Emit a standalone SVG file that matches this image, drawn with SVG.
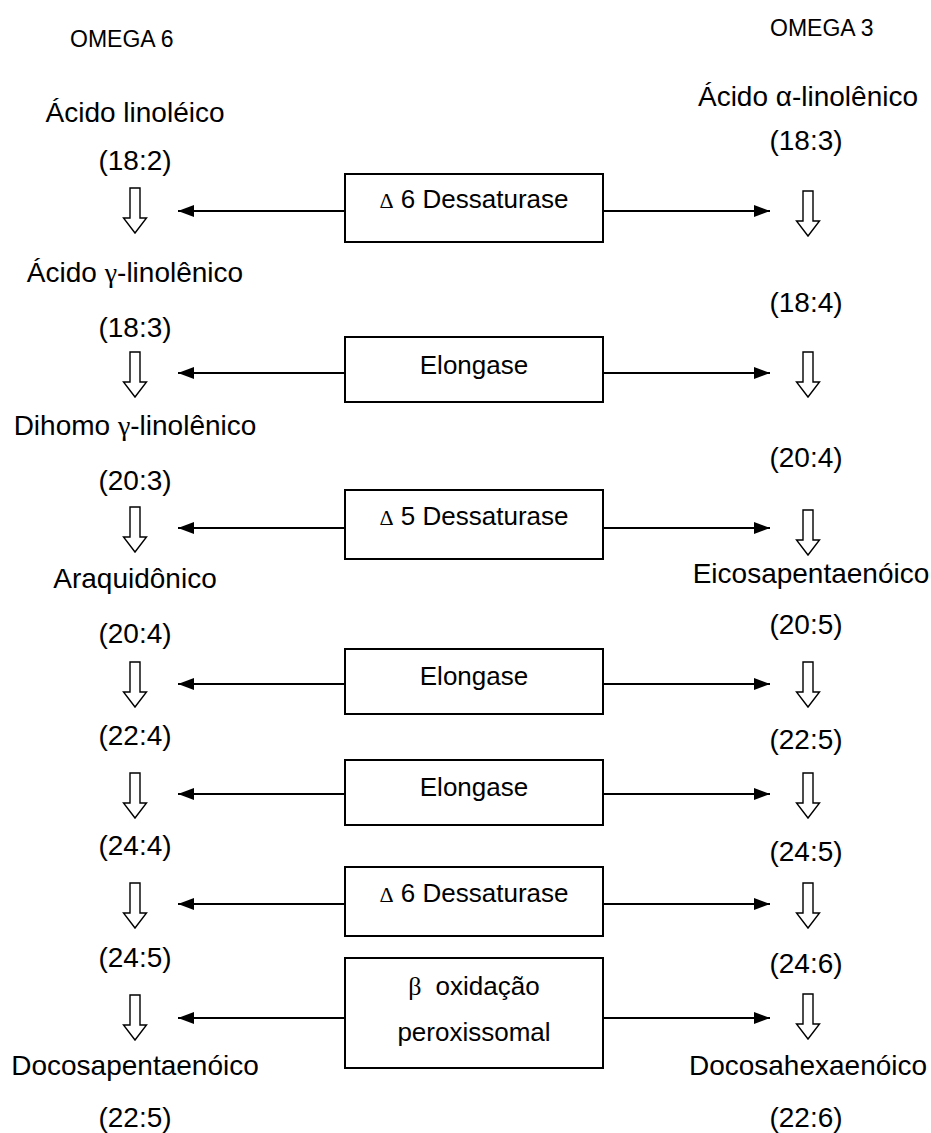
<svg xmlns="http://www.w3.org/2000/svg" xmlns:xlink="http://www.w3.org/1999/xlink" width="931" height="1133" viewBox="0 0 931 1133">
<style>
text{font-family:"Liberation Sans",Arial,sans-serif;fill:#000}
.lbl{font-size:28px;text-anchor:middle}
.hdr{font-size:23px}
.box{fill:#fff;stroke:#000;stroke-width:2}
.btx{font-size:26px;text-anchor:middle}
.sym{font-family:"Liberation Serif","DejaVu Serif",serif}
.con{stroke:#000;stroke-width:2;fill:none}
.hol{fill:#fff;stroke:#000;stroke-width:1.4;stroke-linejoin:miter}
</style>
<defs>
<marker id="ah" viewBox="0 0 16 12" refX="16" refY="6" markerWidth="16" markerHeight="12" markerUnits="userSpaceOnUse" orient="auto">
<path d="M0,0 L16,6 L0,12 Z" fill="#000"/>
</marker>
<path id="down" d="M-5,0 L5,0 L5,30 L11.5,30 L0,45 L-11.5,30 L-5,30 Z"/>
</defs>
<rect width="931" height="1133" fill="#fff"/>

<g id="headers">
<text id="omega6" class="hdr" x="70" y="47">OMEGA 6</text>
<text id="omega3" class="hdr" x="770" y="36">OMEGA 3</text>
</g>

<g id="omega6-column">
<g id="l1"><text class="lbl" x="135" y="122">Ácido linoléico</text></g>
<g id="l1n"><text class="lbl" x="135" y="170">(18:2)</text></g>
<g id="l2"><text class="lbl" x="135" y="282">Ácido <tspan class="sym">γ</tspan>-linolênico</text></g>
<g id="l2n"><text class="lbl" x="135" y="337">(18:3)</text></g>
<g id="l3"><text class="lbl" x="135" y="435">Dihomo <tspan class="sym">γ</tspan>-linolênico</text></g>
<g id="l3n"><text class="lbl" x="135" y="490">(20:3)</text></g>
<g id="l4"><text class="lbl" x="135" y="588">Araquidônico</text></g>
<g id="l4n"><text class="lbl" x="135" y="643">(20:4)</text></g>
<g id="l5n"><text class="lbl" x="135" y="745">(22:4)</text></g>
<g id="l6n"><text class="lbl" x="135" y="855">(24:4)</text></g>
<g id="l7n"><text class="lbl" x="135" y="967">(24:5)</text></g>
<g id="l8"><text class="lbl" x="135" y="1075">Docosapentaenóico</text></g>
<g id="l8n"><text class="lbl" x="135" y="1127">(22:5)</text></g>
</g>

<g id="omega3-column">
<g id="r1"><text class="lbl" x="808" y="106">Ácido α-linolênico</text></g>
<g id="r1n"><text class="lbl" x="806" y="150">(18:3)</text></g>
<g id="r2n"><text class="lbl" x="806" y="312">(18:4)</text></g>
<g id="r3n"><text class="lbl" x="806" y="467">(20:4)</text></g>
<g id="r4"><text class="lbl" x="811" y="583">Eicosapentaenóico</text></g>
<g id="r4n"><text class="lbl" x="806" y="634">(20:5)</text></g>
<g id="r5n"><text class="lbl" x="806" y="749">(22:5)</text></g>
<g id="r6n"><text class="lbl" x="806" y="861">(24:5)</text></g>
<g id="r7n"><text class="lbl" x="806" y="973">(24:6)</text></g>
<g id="r8"><text class="lbl" x="808" y="1075">Docosahexaenóico</text></g>
<g id="r8n"><text class="lbl" x="806" y="1127">(22:6)</text></g>
</g>

<g id="enzymes">
<g id="e1"><rect class="box" x="345" y="174" width="258" height="68"/><text class="btx" x="474" y="208"><tspan class="sym" font-size="22">Δ</tspan> 6 Dessaturase</text></g>
<g id="e2"><rect class="box" x="345" y="337" width="258" height="65"/><text class="btx" x="474" y="374">Elongase</text></g>
<g id="e3"><rect class="box" x="345" y="490" width="258" height="69"/><text class="btx" x="474" y="525"><tspan class="sym" font-size="22">Δ</tspan> 5 Dessaturase</text></g>
<g id="e4"><rect class="box" x="345" y="649" width="258" height="65"/><text class="btx" x="474" y="685">Elongase</text></g>
<g id="e5"><rect class="box" x="345" y="760" width="258" height="65"/><text class="btx" x="474" y="796">Elongase</text></g>
<g id="e6"><rect class="box" x="345" y="867" width="258" height="69"/><text class="btx" x="474" y="902"><tspan class="sym" font-size="22">Δ</tspan> 6 Dessaturase</text></g>
<g id="e7"><rect class="box" x="345" y="958" width="258" height="110"/><text class="btx" x="474" y="995"><tspan class="sym">β</tspan><tspan dx="14">oxidação</tspan></text><text class="btx" x="474" y="1041">peroxissomal</text></g>
</g>

<g id="connectors">
<line class="con" x1="345" y1="211" x2="178" y2="211" marker-end="url(#ah)"/>
<line class="con" x1="603" y1="211" x2="770" y2="211" marker-end="url(#ah)"/>
<line class="con" x1="345" y1="373" x2="178" y2="373" marker-end="url(#ah)"/>
<line class="con" x1="603" y1="373" x2="770" y2="373" marker-end="url(#ah)"/>
<line class="con" x1="345" y1="528" x2="178" y2="528" marker-end="url(#ah)"/>
<line class="con" x1="603" y1="528" x2="770" y2="528" marker-end="url(#ah)"/>
<line class="con" x1="345" y1="684" x2="178" y2="684" marker-end="url(#ah)"/>
<line class="con" x1="603" y1="684" x2="770" y2="684" marker-end="url(#ah)"/>
<line class="con" x1="345" y1="794" x2="178" y2="794" marker-end="url(#ah)"/>
<line class="con" x1="603" y1="794" x2="770" y2="794" marker-end="url(#ah)"/>
<line class="con" x1="345" y1="904" x2="178" y2="904" marker-end="url(#ah)"/>
<line class="con" x1="603" y1="904" x2="770" y2="904" marker-end="url(#ah)"/>
<line class="con" x1="345" y1="1018" x2="178" y2="1018" marker-end="url(#ah)"/>
<line class="con" x1="603" y1="1018" x2="770" y2="1018" marker-end="url(#ah)"/>
<g class="hol">
<use xlink:href="#down" x="135" y="188"/>
<use xlink:href="#down" x="135" y="352"/>
<use xlink:href="#down" x="135" y="507"/>
<use xlink:href="#down" x="135" y="662"/>
<use xlink:href="#down" x="135" y="773"/>
<use xlink:href="#down" x="135" y="883"/>
<use xlink:href="#down" x="135" y="995"/>
<use xlink:href="#down" x="808" y="191"/>
<use xlink:href="#down" x="808" y="352"/>
<use xlink:href="#down" x="808" y="510"/>
<use xlink:href="#down" x="808" y="662"/>
<use xlink:href="#down" x="808" y="773"/>
<use xlink:href="#down" x="808" y="883"/>
<use xlink:href="#down" x="808" y="994"/>
</g>
</g>
</svg>
